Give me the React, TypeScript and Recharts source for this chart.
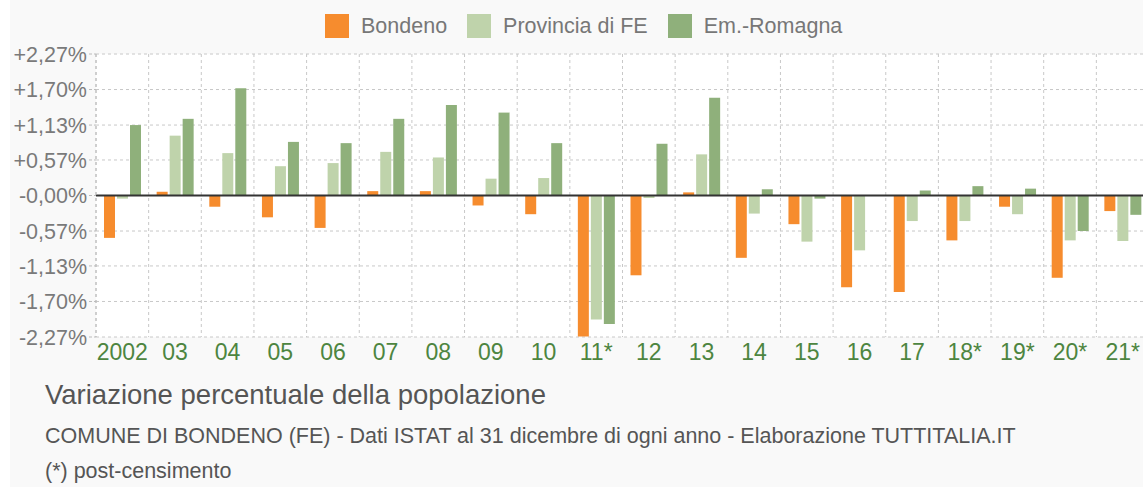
import { BarChart, Bar, XAxis, YAxis, CartesianGrid, ReferenceLine } from 'recharts'

const years = ['2002', '03', '04', '05', '06', '07', '08', '09', '10', '11*', '12', '13', '14', '15', '16', '17', '18*', '19*', '20*', '21*']
const bondeno = [-0.68, 0.06, -0.18, -0.35, -0.52, 0.07, 0.07, -0.16, -0.3, -2.26, -1.28, 0.05, -1.0, -0.46, -1.47, -1.55, -0.72, -0.18, -1.32, -0.25]
const provinciaFE = [-0.05, 0.96, 0.68, 0.47, 0.52, 0.7, 0.61, 0.27, 0.28, -1.99, -0.04, 0.66, -0.29, -0.74, -0.88, -0.41, -0.41, -0.3, -0.72, -0.73]
const emRomagna = [1.13, 1.23, 1.72, 0.86, 0.84, 1.23, 1.45, 1.33, 0.84, -2.06, 0.83, 1.57, 0.1, -0.05, 0, 0.08, 0.15, 0.11, -0.57, -0.31]

const yTicks = [2.27, 1.7, 1.13, 0.57, 0, -0.57, -1.13, -1.7, -2.27]
const yTickLabels = ['+2,27%', '+1,70%', '+1,13%', '+0,57%', '-0,00%', '-0,57%', '-1,13%', '-1,70%', '-2,27%']

const series = [
  { key: 'bondeno', name: 'Bondeno', color: '#f68c2e' },
  { key: 'provincia', name: 'Provincia di FE', color: '#bfd3ab' },
  { key: 'regione', name: 'Em.-Romagna', color: '#8fb07b' },
]

const data = years.map((year, i) => ({
  year,
  bondeno: bondeno[i],
  provincia: provinciaFE[i],
  regione: emRomagna[i],
}))

const FONT = '"Liberation Sans", Arial, Helvetica, sans-serif'

export default function App() {
  return (
    <div style={{ position: 'absolute', left: 0, top: 0, width: 1143, height: 487, overflow: 'hidden', background: '#fff', fontFamily: FONT }}>
      <div style={{ position: 'absolute', left: 10, top: 0, right: 0, bottom: 0, background: '#f9f9f9' }} />

      {/* legend */}
      <div style={{ position: 'absolute', left: 325, top: 14, display: 'flex', alignItems: 'center', gap: 20, fontSize: 21.5, color: '#777' }}>
        {series.map(s => (
          <span key={s.key} style={{ display: 'flex', alignItems: 'center', gap: 12, lineHeight: '24px' }}>
            <span style={{ width: 24, height: 24, background: s.color, display: 'inline-block' }} />
            {s.name}
          </span>
        ))}
      </div>

      <div style={{ position: 'absolute', left: 0, top: 0 }}>
        <BarChart
          width={1149}
          height={377}
          data={data}
          margin={{ top: 54, right: 0, left: 0, bottom: 0 }}
          barCategoryGap={8}
          barGap={2}
        >
          <CartesianGrid
            stroke="#c8c8c8"
            strokeDasharray="3 3"
            fill="#fff"
            verticalCoordinatesGenerator={({ offset }: any) =>
              years.map((_, i) => offset.left + (i * offset.width) / years.length).concat(offset.left + offset.width)
            }
          />
          <XAxis
            dataKey="year"
            tickLine={false}
            axisLine={false}
            tickSize={0}
            tickMargin={7}
            interval={0}
            height={40}
            tick={{ fontSize: 23, fill: '#4d8540', fontFamily: FONT }}
          />
          <YAxis
            type="number"
            domain={[-2.27, 2.27]}
            ticks={yTicks}
            interval={0}
            width={96}
            tickSize={7}
            tickMargin={2}
            tickLine={{ stroke: '#bbb', strokeDasharray: '3 2' }}
            axisLine={{ stroke: '#bbb', strokeDasharray: '3 3' }}
            tickFormatter={(v: number) => yTickLabels[yTicks.indexOf(v)] ?? ''}
            tick={{ fontSize: 21.5, fill: '#7a7a7a', fontFamily: FONT }}
          />
          {series.map(s => (
            <Bar key={s.key} dataKey={s.key} name={s.name} fill={s.color} isAnimationActive={false} />
          ))}
          <ReferenceLine y={0} stroke="#333" strokeWidth={2} />
        </BarChart>
      </div>

      {/* captions */}
      <div style={{ position: 'absolute', left: 45, top: 381, fontSize: 27.5, lineHeight: 1, color: '#555', whiteSpace: 'nowrap' }}>
        Variazione percentuale della popolazione
      </div>
      <div style={{ position: 'absolute', left: 45, top: 426, fontSize: 21.5, lineHeight: 1, color: '#555', whiteSpace: 'nowrap' }}>
        COMUNE DI BONDENO (FE) - Dati ISTAT al 31 dicembre di ogni anno - Elaborazione TUTTITALIA.IT
      </div>
      <div style={{ position: 'absolute', left: 45, top: 461, fontSize: 21.5, lineHeight: 1, color: '#555', whiteSpace: 'nowrap' }}>
        (*) post-censimento
      </div>
    </div>
  )
}
